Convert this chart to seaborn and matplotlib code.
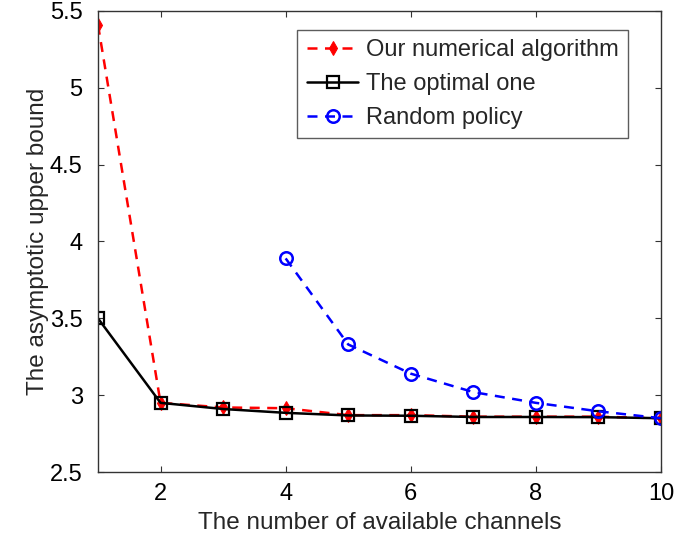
import numpy as np
import pandas as pd
import matplotlib
matplotlib.use("Agg")
import matplotlib.pyplot as plt
import seaborn as sns

# data
channels = [1, 2, 3, 4, 5, 6, 7, 8, 9, 10]
numerical = [5.41, 2.95, 2.92, 2.915, 2.87, 2.87, 2.86, 2.86, 2.86, 2.85]
optimal = [3.50, 2.95, 2.91, 2.885, 2.868, 2.866, 2.858, 2.858, 2.857, 2.85]
random_channels = [4, 5, 6, 7, 8, 9, 10]
random_policy = [3.89, 3.33, 3.14, 3.02, 2.95, 2.895, 2.85]

x_ticks = [2, 4, 6, 8, 10]
y_ticks = [2.5, 3, 3.5, 4, 4.5, 5, 5.5]


def main():
    sns.set_style("ticks")
    plt.rcParams['font.family'] = ['Liberation Sans', 'DejaVu Sans']

    fig = plt.figure(figsize=(6.93, 5.39), dpi=100)
    ax = fig.add_axes([0.1414, 0.1243, 0.8124, 0.8553])

    df_num = pd.DataFrame({'x': channels, 'y': numerical})
    df_opt = pd.DataFrame({'x': channels, 'y': optimal})
    df_rnd = pd.DataFrame({'x': random_channels, 'y': random_policy})

    sns.lineplot(data=df_num, x='x', y='y', ax=ax, color='#ff0000', lw=1.8,
                 linestyle=(0, (4, 3)), marker='d', markersize=7,
                 markeredgecolor='#ff0000', label='Our numerical algorithm')
    sns.lineplot(data=df_opt, x='x', y='y', ax=ax, color='black', lw=1.8,
                 marker='s', markersize=9, markerfacecolor='none',
                 markeredgecolor='black', markeredgewidth=1.6,
                 label='The optimal one')
    sns.lineplot(data=df_rnd, x='x', y='y', ax=ax, color='#0000ff', lw=1.8,
                 linestyle=(0, (4, 3)), marker='o', markersize=9,
                 markerfacecolor='none', markeredgecolor='#0000ff',
                 markeredgewidth=1.8, label='Random policy')

    ax.set_xlim(1, 10)
    ax.set_ylim(2.5, 5.5)
    ax.set_xticks(x_ticks)
    ax.set_yticks(y_ticks)
    ax.set_yticklabels([f"{v:g}" for v in y_ticks])
    ax.tick_params(direction='in', top=True, right=True, labelsize=17,
                   length=4, width=0.8, color='#333333', labelcolor='black')
    ax.tick_params(axis='x', pad=8)
    ax.tick_params(axis='y', pad=11)
    for s in ax.spines.values():
        s.set_visible(True)
        s.set_color('#333333')
        s.set_linewidth(1.0)

    ax.set_xlabel('The number of available channels', fontsize=17.5, labelpad=5)
    ax.set_ylabel('The asymptotic upper bound', fontsize=17.5, labelpad=1)

    leg = ax.legend(loc='upper right', bbox_to_anchor=(0.941, 0.959),
                    fontsize=17, frameon=True, fancybox=False,
                    handlelength=2.2, handletextpad=0.3, borderpad=0.4,
                    labelspacing=0.5, borderaxespad=0)
    leg.get_frame().set_edgecolor('#333333')
    leg.get_frame().set_linewidth(1.0)

    fig.savefig('out.png', dpi=100)


if __name__ == "__main__":
    main()
